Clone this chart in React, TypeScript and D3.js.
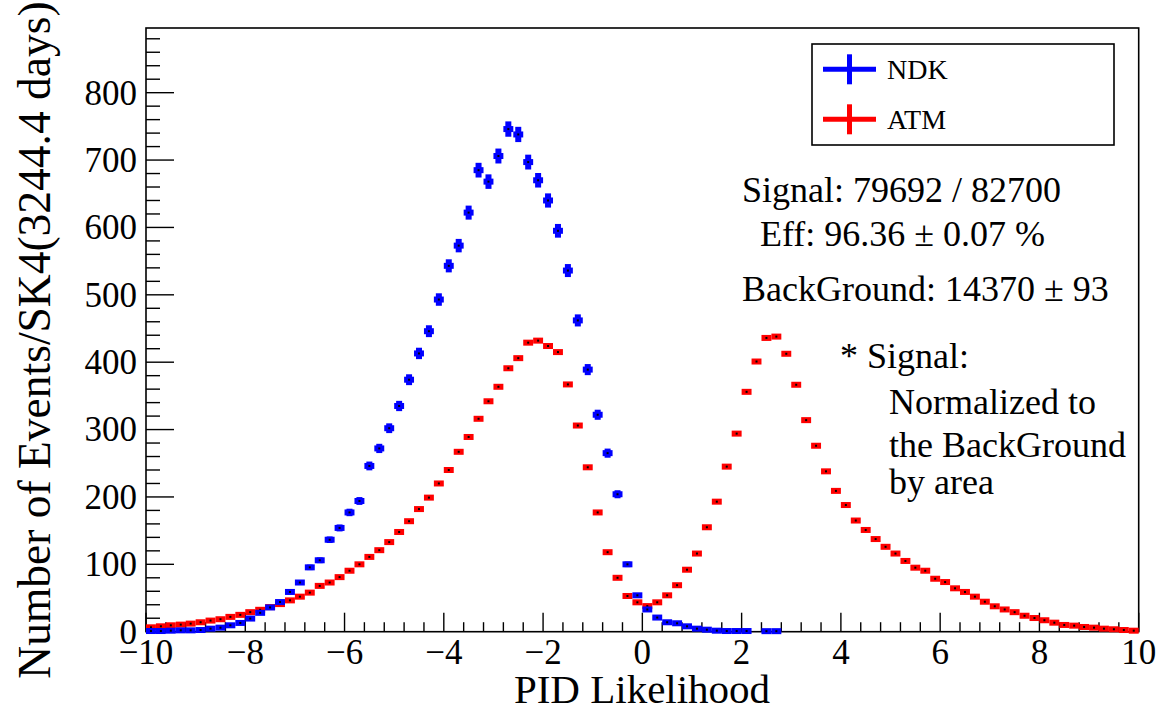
import React, { useEffect, useRef } from 'react';
import * as d3 from 'd3';

// histogram binning: 100 bins of 0.2 from -10 to 10
const binLow = -10;
const binWidth = 0.2;

// NDK (signal, normalized to background by area)
const ndkCounts = [
  1, 1, 1.5, 2, 2, 2.5, 4.5, 6, 9.5, 13,
  19.5, 28, 36, 44, 59, 73, 95.5, 106, 136.5, 154,
  177, 194, 246, 272, 302, 335, 374, 413, 446, 493,
  543, 573, 622, 685, 668, 706, 746, 738, 697, 670,
  640, 595, 536, 462, 389, 322, 265, 204, 100, 54,
  33, 21, 14, 12.5, 8, 4.5, 3, 1.5, 1, 1,
  1, 0, 0.8, 0.8, 0, 0, 0, 0, 0, 0,
  0, 0, 0, 0, 0, 0, 0, 0, 0, 0,
  0, 0, 0, 0, 0, 0, 0, 0, 0, 0,
  0, 0, 0, 0, 0, 0, 0, 0, 0, 0,
];

// ATM (background)
const atmCounts = [
  6.5, 8, 9.5, 10.5, 12, 14, 16.5, 18.5, 22, 25,
  29, 32.5, 36.5, 41, 46.5, 52, 58, 68, 73, 81,
  90.5, 100, 111, 121, 133, 148, 164, 182, 199, 220,
  240, 267, 289, 316, 342, 363.5, 391, 406, 429, 432,
  424, 415, 367, 306, 244, 177, 118, 80, 53, 43.6,
  38, 43.6, 54, 69, 92, 116, 155, 193, 245, 294,
  356, 401, 436, 438, 412.5, 366.5, 314, 276, 238, 209,
  188, 165, 151, 137.5, 126, 116, 105, 95, 90.5, 78.6,
  73.7, 64.4, 59, 52, 44.5, 37.7, 33, 29, 23.7, 20.3,
  17, 13.4, 10, 9, 7, 6, 4.5, 3.6, 2.5, 1.5,
];

const signalTotal = 82700;
const backgroundTotal = 14370;

const legendLabels = ['NDK', 'ATM'];
const legendColors = ['#0000ff', '#ff0000'];

const infoLines = [
  'Signal: 79692 / 82700',
  'Eff: 96.36 \u00b1 0.07 %',
  'BackGround: 14370 \u00b1 93',
];
const noteLines = ['* Signal:', 'Normalized to', 'the BackGround', 'by area'];

const xTicks = [-10, -8, -6, -4, -2, 0, 2, 4, 6, 8, 10];
const yTicks = [0, 100, 200, 300, 400, 500, 600, 700, 800];

const FONT = '"Liberation Serif", "DejaVu Serif", serif';

const App = () => {
  const ref = useRef<SVGSVGElement>(null);

  useEffect(() => {
    const svg = d3.select(ref.current);
    svg.selectAll('*').remove();

    const x = d3.scaleLinear().domain([-10, 10]).range([146, 1138.7]);
    const y = d3.scaleLinear().domain([0, 896]).range([631.7, 28]);

    const [x0, x1] = x.range();
    const [y0, y1] = y.range();

    // ticks (major + minor)
    const g = svg.append('g');
    g.selectAll('.ymin')
      .data(d3.range(0, 881, 20))
      .enter()
      .append('line')
      .attr('x1', x0).attr('x2', d => x0 + (d % 100 === 0 ? 28 : 14))
      .attr('y1', d => y(d)).attr('y2', d => y(d))
      .attr('stroke', '#000').attr('stroke-width', 1.4);

    g.selectAll('.xmin')
      .data(d3.range(0, 51).map(i => -10 + i * 0.4))
      .enter()
      .append('line')
      .attr('x1', d => x(d)).attr('x2', d => x(d))
      .attr('y1', y0).attr('y2', (d, i) => y0 - (i % 5 === 0 ? 19 : 9.5))
      .attr('stroke', '#000').attr('stroke-width', 1.4);

    // frame
    svg.append('rect')
      .attr('x', x0).attr('y', y1)
      .attr('width', x1 - x0).attr('height', y0 - y1)
      .attr('fill', 'none').attr('stroke', '#000').attr('stroke-width', 1.6);

    // tick labels
    const fmt = d3.format('');
    svg.selectAll('.xl')
      .data(xTicks)
      .enter()
      .append('text')
      .attr('x', d => x(d)).attr('y', 664)
      .attr('text-anchor', 'middle')
      .style('font-family', FONT).style('font-size', '35px')
      .text(d => fmt(d));

    svg.selectAll('.yl')
      .data(yTicks)
      .enter()
      .append('text')
      .attr('x', 137).attr('y', d => y(d))
      .attr('dy', '0.34em')
      .attr('text-anchor', 'end')
      .style('font-family', FONT).style('font-size', '35px')
      .text(d => fmt(d));

    // axis titles
    svg.append('text')
      .attr('x', 642).attr('y', 703)
      .attr('text-anchor', 'middle')
      .style('font-family', FONT).style('font-size', '41px')
      .text('PID Likelihood');

    svg.append('text')
      .attr('transform', 'translate(50, 340) rotate(-90)')
      .attr('text-anchor', 'middle')
      .style('font-family', FONT).style('font-size', '45.5px')
      .text('Number of Events/SK4(3244.4 days)');

    // histogram points with error bars
    const drawHist = (counts: number[], color: string, scale: number) => {
      const pts = counts
        .map((v, i) => ({ v, lo: binLow + i * binWidth, hi: binLow + (i + 1) * binWidth }))
        .filter(d => d.v > 0);
      const hg = svg.append('g');
      const pt = hg.selectAll('g').data(pts).enter().append('g');
      pt.append('rect')
        .attr('x', d => x(d.lo)).attr('width', d => x(d.hi) - x(d.lo))
        .attr('y', d => y(d.v) - 3).attr('height', 6)
        .attr('fill', color);
      pt.append('rect')
        .attr('x', d => x((d.lo + d.hi) / 2) - 3).attr('width', 6)
        .attr('y', d => y(d.v + Math.sqrt(d.v * scale)))
        .attr('height', d => y(d.v - Math.sqrt(d.v * scale)) - y(d.v + Math.sqrt(d.v * scale)))
        .attr('fill', color);
      pt.append('rect')
        .attr('x', d => x((d.lo + d.hi) / 2) - 1).attr('width', 2)
        .attr('y', d => y(d.v) - 1).attr('height', 2)
        .attr('fill', '#000');
    };

    drawHist(atmCounts, legendColors[1], 0.02);
    drawHist(ndkCounts, legendColors[0], backgroundTotal / signalTotal);

    // legend
    svg.append('rect')
      .attr('x', 812).attr('y', 44).attr('width', 302).attr('height', 101)
      .attr('fill', '#fff').attr('stroke', '#000').attr('stroke-width', 1.6);

    const leg = svg.selectAll('.leg')
      .data(legendLabels)
      .enter()
      .append('g')
      .attr('transform', (d, i) => `translate(0, ${69.3 + i * 50})`);
    leg.append('line')
      .attr('x1', 823).attr('x2', 876).attr('y1', 0).attr('y2', 0)
      .attr('stroke', (d, i) => legendColors[i]).attr('stroke-width', 5);
    leg.append('line')
      .attr('x1', 849.5).attr('x2', 849.5).attr('y1', -15).attr('y2', 15)
      .attr('stroke', (d, i) => legendColors[i]).attr('stroke-width', 5);
    leg.append('text')
      .attr('x', 887).attr('y', 10)
      .style('font-family', FONT).style('font-size', '28px')
      .text(d => d);

    // info text
    const infoPos = [[742, 202], [760, 246], [742, 301]];
    svg.selectAll('.info')
      .data(infoLines)
      .enter()
      .append('text')
      .attr('x', (d, i) => infoPos[i][0]).attr('y', (d, i) => infoPos[i][1])
      .style('font-family', FONT).style('font-size', '36px')
      .text(d => d);

    const notePos = [[840, 368], [889, 414], [889, 457], [889, 494]];
    svg.selectAll('.note')
      .data(noteLines)
      .enter()
      .append('text')
      .attr('x', (d, i) => notePos[i][0]).attr('y', (d, i) => notePos[i][1])
      .style('font-family', FONT).style('font-size', '36px')
      .text(d => d);
  }, []);

  return (
    <svg
      ref={ref}
      width={1164}
      height={710}
      style={{ position: 'absolute', left: 0, top: 0, background: '#fff' }}
    />
  );
};

export default App;
